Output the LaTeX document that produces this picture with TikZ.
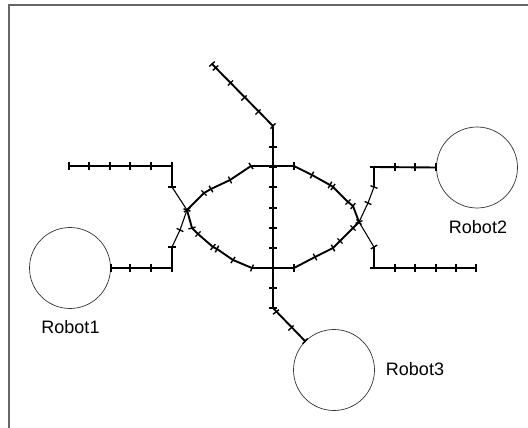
\documentclass[tikz,border=0pt]{standalone}
\usepackage{fontspec}
\setmainfont{Liberation Sans}
\usetikzlibrary{decorations.markings}
\tikzset{
  route/.style={line width=1.9pt, line join=round, line cap=round, black},
  stub/.style={line width=1.1pt, black},
  tickend/.style={decorate, decoration={markings,
      mark=at position 1 with {\draw[line width=1.4pt] (0pt,-3.7pt) -- (0pt,3.7pt);}}},
  tickstart/.style={decorate, decoration={markings,
      mark=at position 0 with {\draw[line width=1.4pt] (0pt,-3.7pt) -- (0pt,3.7pt);}}},
  robot/.style={circle, draw=black!80, line width=0.7pt, minimum size=81pt, inner sep=0pt},
  tag/.style={anchor=base, font=\fontsize{18}{21}\selectfont, inner sep=0pt},
  frame/.style={draw=black!60, line width=1.5pt}
}
\begin{document}
\begin{tikzpicture}[x=1pt, y=-1pt]
  \useasboundingbox (0,0) rectangle (528,428);
  % window frame
  \draw[frame] (9,428) -- (9,5) -- (528,5);

  % robots
  \node[robot] (r1) at (70,268) {};
  \node[robot] (r2) at (477,167.5) {};
  \node[robot] (r3) at (334,370) {};
  \node[tag] (l1) at (70.5,333) {Robot1};
  \node[tag] (l2) at (478,233) {Robot2};
  \node[tag] (l3) at (415,375) {Robot3};

  % route A: upper-left stub, lower loop, on to Robot2
  \draw[route] (69,166) -- (172,166) -- (172,187);
  \draw[stub] (172,187) -- (187,210);
  \draw[route] (187,210) -- (192,228) -- (198,234) -- (213,247) -- (217,249)
    -- (233,260) -- (252,268) -- (294,268) -- (315,257) -- (333,248)
    -- (340,241) -- (353,228) -- (359,222);
  \draw[stub] (359,222) -- (368,203) -- (374,187);
  \draw[route] (374,187) -- (374,167) -- (r2.west);
  \path[tickstart] (69,166) -- (89,166);
  \foreach \x/\y [remember=\x as \lx (initially 69), remember=\y as \ly (initially 166)]
    in {89/166,110/166,130/166,151/166,172/166,172/187,187/210,192/228,198/234,
        213/247,217/249,233/260,252/268,294/268,315/257,333/248,340/241,353/228,
        359/222,368/203,374/187,374/167,395/167,415/167,436/167}
    \path[tickend] (\lx,\ly) -- (\x,\y);

  % route B: Robot1, upper loop, lower-right stub
  \draw[route] (r1.east) -- (172,268) -- (172,247);
  \draw[stub] (172,247) -- (180,230) -- (187,210);
  \draw[route] (187,210) -- (204,193) -- (211,189) -- (230,180) -- (251,166)
    -- (294,166) -- (312,175) -- (330,185) -- (333,187) -- (348,202)
    -- (353,206) -- (359,222);
  \draw[stub] (359,222) -- (374,247);
  \draw[route] (374,247) -- (374,268) -- (476,268);
  \path[tickstart] (111,268) -- (130,268);
  \foreach \x/\y [remember=\x as \lx (initially 111), remember=\y as \ly (initially 268)]
    in {130/268,151/268,172/268,172/247,180/230,187/210,204/193,211/189,230/180,
        251/166,294/166,312/175,330/185,333/187,348/202,353/206,359/222,374/247,
        374/268,395/268,415/268,436/268,456/268,476/268}
    \path[tickend] (\lx,\ly) -- (\x,\y);

  % route C: from the top, straight down the middle to Robot3
  \draw[route] (212,64) -- (273,126) -- (273,308) -- (r3.135);
  \path[tickstart] (212,64) -- (215.5,68);
  \foreach \x/\y [remember=\x as \lx (initially 212), remember=\y as \ly (initially 64)]
    in {215.5/68,230.5/83,244/98,258/112,273/126,273/147,273/167,273/187,273/208,
        273/228,273/248,273/268,273/288,273/308,276/312,291/328}
    \path[tickend] (\lx,\ly) -- (\x,\y);
  \path[tickend] (291,328) -- (r3.135);
\end{tikzpicture}
\end{document}
